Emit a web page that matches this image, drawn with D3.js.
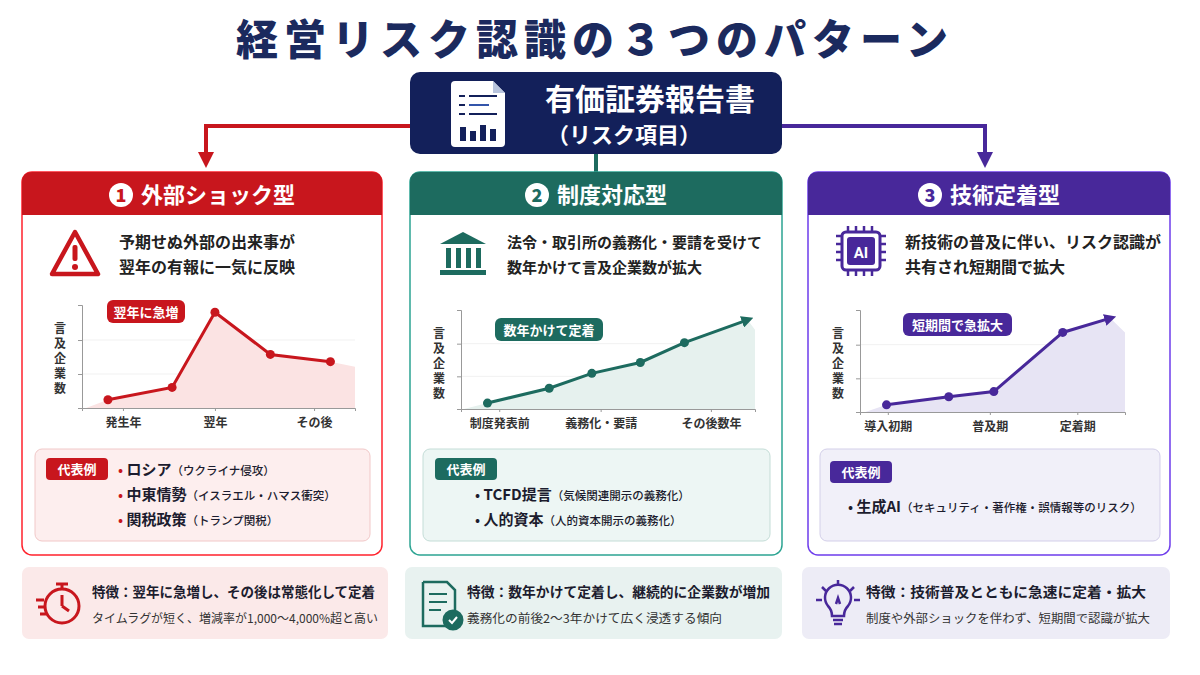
<!DOCTYPE html>
<html><head><meta charset="utf-8">
<script src="https://cdn.jsdelivr.net/npm/d3@7"></script>
<style>body{margin:0;background:#fff}svg{font-family:"Noto Sans CJK JP","Noto Sans",sans-serif}</style>
</head><body>
<script>
// data
var titles = ['外部ショック型', '制度対応型', '技術定着型'];
var descs = [['予期せぬ外部の出来事が', '翌年の有報に一気に反映'],
  ['法令・取引所の義務化・要請を受けて', '数年かけて言及企業数が拡大'],
  ['新技術の普及に伴い、リスク認識が', '共有され短期間で拡大']];
var badges = ['翌年に急増', '数年かけて定着', '短期間で急拡大'];
var shockX = [0.95, 3.3, 4.87, 6.9, 9.1], shockY = [8, 20, 93, 52, 45];
var instX = [0.9, 3.0, 4.45, 6.1, 7.6, 9.75], instY = [6, 21, 36, 47, 67, 90];
var techX = [1.0, 3.35, 5.05, 7.65, 9.45], techY = [7, 15, 20, 78, 92];
var fillEnd = [40, 80, 78];
var catLabels = [['発生年', '翌年', 'その後'], ['制度発表前', '義務化・要請', 'その後数年'], ['導入初期', '普及期', '定着期']];
var catPos = [[1.5, 4.87, 8.5], [1.3, 4.75, 8.5], [1.05, 4.9, 8.2]];
var examples = [
  [['ロシア', '（ウクライナ侵攻）'], ['中東情勢', '（イスラエル・ハマス衝突）'], ['関税政策', '（トランプ関税）']],
  [['TCFD提言', '（気候関連開示の義務化）'], ['人的資本', '（人的資本開示の義務化）']],
  [['生成AI', '（セキュリティ・著作権・誤情報等のリスク）']]];
var feat1 = ['特徴：翌年に急増し、その後は常態化して定着', '特徴：数年かけて定着し、継続的に企業数が増加', '特徴：技術普及とともに急速に定着・拡大'];
var feat2 = ['タイムラグが短く、増減率が1,000〜4,000%超と高い', '義務化の前後2〜3年かけて広く浸透する傾向', '制度や外部ショックを伴わず、短期間で認識が拡大'];

var colors = ['#c8161d', '#1d6b5f', '#48289a'];
var lightFill = ['#fdeeee', '#edf6f4', '#f1f0f9'];
var lightStroke = ['#f1c8c8', '#c4ddd7', '#d3cfe9'];
var featFill = ['#fbe9e9', '#e8f2f0', '#edecf6'];
var areaFill = ['#fbe3e3', '#e6f1ee', '#e7e4f4'];
var navy = '#13205a';

var svg = d3.select('body').append('svg').attr('width', 1200).attr('height', 675);
var defs = svg.append('defs');
colors.forEach(function (c, i) {
  defs.append('marker').attr('id', 'ar' + i).attr('viewBox', '0 0 10 10').attr('refX', 5).attr('refY', 5)
    .attr('markerWidth', 4).attr('markerHeight', 4).attr('orient', 'auto')
    .append('path').attr('d', 'M0,0L10,5L0,10z').attr('fill', c);
});

svg.append('text').attr('x', 592).attr('y', 55).attr('text-anchor', 'middle').attr('font-size', 42)
  .attr('font-weight', 900).attr('fill', '#1b2a5e').attr('textLength', 712).attr('lengthAdjust', 'spacing').text('経営リスク認識の３つのパターン');

// connectors
svg.append('path').attr('d', 'M410,126H206V160').attr('fill', 'none').attr('stroke', colors[0]).attr('stroke-width', 4).attr('marker-end', 'url(#ar0)');
svg.append('path').attr('d', 'M596,150V172').attr('fill', 'none').attr('stroke', colors[1]).attr('stroke-width', 4);
svg.append('path').attr('d', 'M782,126H985V160').attr('fill', 'none').attr('stroke', colors[2]).attr('stroke-width', 4).attr('marker-end', 'url(#ar2)');

// center box
svg.append('rect').attr('x', 410).attr('y', 72).attr('width', 372).attr('height', 82).attr('rx', 10).attr('fill', navy);
var doc = svg.append('g').attr('transform', 'translate(451,81)');
doc.append('path').attr('d', 'M0,4Q0,0 4,0H42L54,12V62Q54,66 50,66H4Q0,66 0,62Z').attr('fill', '#fff');
doc.append('path').attr('d', 'M42,0V12H54Z').attr('fill', '#b8c4dd');
[14, 23, 32].forEach(function (y, k) {
  doc.append('rect').attr('x', 8).attr('y', y).attr('width', 6).attr('height', 2).attr('fill', navy);
  doc.append('rect').attr('x', 18).attr('y', y).attr('width', k == 1 ? 20 : 28).attr('height', 2).attr('fill', k == 1 ? '#3355aa' : navy);
});
[[9, 14], [19, 10], [29, 16], [39, 12]].forEach(function (b) {
  doc.append('rect').attr('x', b[0]).attr('y', 60 - b[1]).attr('width', 6).attr('height', b[1]).attr('fill', navy);
});
svg.append('text').attr('x', 650).attr('y', 110).attr('text-anchor', 'middle').attr('font-size', 30).attr('font-weight', 700).attr('fill', '#fff').text('有価証券報告書');
svg.append('text').attr('x', 624).attr('y', 143).attr('text-anchor', 'middle').attr('font-size', 22).attr('font-weight', 700).attr('fill', '#fff').text('（リスク項目）');

var panels = [
  {x: 22, w: 360, ax: 82, ax2: 355, by: 408, ty: 305, xs: shockX, ys: shockY, arrow: false, badge: [107, 300, 78], ex: [35, 335], exBadge: [46, 458], exX: 118, exY: [469, 494, 519], ft: [22, 366], fx: 70, fw: [283, 286]},
  {x: 410, w: 372, ax: 461, ax2: 755, by: 409, ty: 310, xs: instX, ys: instY, arrow: true, badge: [495, 318, 108], ex: [423, 347], exBadge: [435, 458], exX: 475, exY: [494, 519], ft: [405, 377], fx: 62, fw: [303, 255]},
  {x: 808, w: 362, ax: 860, ax2: 1125, by: 412, ty: 310, xs: techX, ys: techY, arrow: true, badge: [903, 313, 109], ex: [820, 340], exBadge: [830, 461], exX: 848, exY: [506], ft: [802, 368], fx: 64, fw: [280, 284]}];

panels.forEach(function (p, i) {
  var c = colors[i];
  var g = svg.append('g');
  g.append('rect').attr('x', p.x).attr('y', 172).attr('width', p.w).attr('height', 383).attr('rx', 10)
    .attr('fill', '#fff').attr('stroke', d3.color(c).brighter(1.2)).attr('stroke-width', 1.5);
  g.append('path').attr('d', 'M' + p.x + ',215V182Q' + p.x + ',172 ' + (p.x + 10) + ',172H' + (p.x + p.w - 10) + 'Q' + (p.x + p.w) + ',172 ' + (p.x + p.w) + ',182V215Z').attr('fill', c);
  var cx = p.x + p.w / 2;
  g.append('text').attr('y', 203).attr('font-size', 22).attr('font-weight', 700).attr('fill', '#fff').attr('x', cx + 16).attr('text-anchor', 'middle').text(titles[i]);
  var tw = titles[i].length * 22;
  g.append('circle').attr('cx', cx + 16 - tw / 2 - 20).attr('cy', 195).attr('r', 12).attr('fill', '#fff');
  g.append('text').attr('x', cx + 16 - tw / 2 - 20).attr('y', 202).attr('text-anchor', 'middle').attr('font-size', 18).attr('font-weight', 900).attr('fill', c).text(i + 1);

  // icon
  var ic = g.append('g').attr('transform', 'translate(' + (p.x + 28) + ',228)');
  if (i == 0) {
    ic.append('path').attr('d', 'M25,4L48,46H2Z').attr('fill', 'none').attr('stroke', c).attr('stroke-width', 4.5).attr('stroke-linejoin', 'round');
    ic.append('rect').attr('x', 22.5).attr('y', 17).attr('width', 5).attr('height', 16).attr('rx', 2).attr('fill', c);
    ic.append('circle').attr('cx', 25).attr('cy', 39).attr('r', 3).attr('fill', c);
  } else if (i == 1) {
    ic.append('path').attr('d', 'M2,16L25,4L48,16Z').attr('fill', c);
    [8, 18, 28, 38].forEach(function (x) { ic.append('rect').attr('x', x).attr('y', 20).attr('width', 5).attr('height', 20).attr('fill', c); });
    ic.append('rect').attr('x', 2).attr('y', 42).attr('width', 46).attr('height', 5).attr('fill', c);
  } else {
    ic.append('rect').attr('x', 6).attr('y', 4).attr('width', 38).attr('height', 38).attr('rx', 4).attr('fill', 'none').attr('stroke', c).attr('stroke-width', 3);
    [12, 20, 28, 36].forEach(function (v) {
      ic.append('path').attr('d', 'M' + v + ',4V-2M' + v + ',42V48M6,' + (v - 4) + 'H0M44,' + (v - 4) + 'H50').attr('stroke', c).attr('stroke-width', 2.5);
    });
    ic.append('rect').attr('x', 11).attr('y', 9).attr('width', 28).attr('height', 28).attr('rx', 3).attr('fill', c);
    ic.append('text').attr('x', 25).attr('y', 30).attr('text-anchor', 'middle').attr('font-size', 15).attr('font-weight', 700).attr('fill', '#fff').attr('font-family', 'Roboto').text('AI');
  }
  descs[i].forEach(function (t, k) {
    g.append('text').attr('x', p.x + 97).attr('y', 248 + k * 25).attr('font-size', i == 1 ? 15 : 16).attr('font-weight', 700).attr('fill', '#222').text(t);
  });

  // chart
  var x = d3.scaleLinear().domain([0, 10]).range([p.ax, p.ax2]);
  var y = d3.scaleLinear().domain([0, 100]).range([p.by, p.ty]);
  [33, 66].forEach(function (v) {
    g.append('line').attr('x1', p.ax).attr('x2', p.ax2).attr('y1', y(v)).attr('y2', y(v)).attr('stroke', '#f1f1f1');
  });
  var pts = p.xs.map(function (v, k) { return [v, p.ys[k]]; });
  var apts = [[p.xs[0] - 0.8, 0]].concat(pts).concat([[10, fillEnd[i]], [10, 0]]);
  g.append('path').datum(apts).attr('fill', areaFill[i])
    .attr('d', d3.area().x(function (d) { return x(d[0]); }).y0(p.by).y1(function (d) { return y(d[1]); }));
  var yax = g.append('g').attr('transform', 'translate(' + p.ax + ',0)').call(d3.axisLeft(y).tickValues([33, 66]).tickSize(4).tickFormat(''));
  yax.select('.domain').attr('stroke', '#999');
  yax.selectAll('line').attr('stroke', '#999');
  var xax = g.append('g').attr('transform', 'translate(0,' + p.by + ')').call(d3.axisBottom(x).tickValues(catPos[i]).tickSize(3).tickFormat(function (d, k) { return catLabels[i][k]; }));
  xax.select('.domain').attr('stroke', '#999');
  xax.selectAll('line').attr('stroke', '#999');
  xax.selectAll('text').attr('font-size', 12).attr('font-weight', 700).attr('fill', '#333').attr('dy', '1.1em').attr('font-family', 'Noto Sans CJK JP');
  ['言', '及', '企', '業', '数'].forEach(function (ch, k) {
    g.append('text').attr('x', p.ax - 22).attr('y', p.ty + 28 + k * 15).attr('text-anchor', 'middle').attr('font-size', 12).attr('font-weight', 700).attr('fill', '#333').text(ch);
  });
  var line = d3.line().x(function (d) { return x(d[0]); }).y(function (d) { return y(d[1]); });
  g.append('path').datum(pts).attr('fill', 'none').attr('stroke', c).attr('stroke-width', 3)
    .attr('marker-end', p.arrow ? 'url(#ar' + i + ')' : null).attr('d', line);
  g.selectAll('.dot').data(p.arrow ? pts.slice(0, -1) : pts).enter().append('circle')
    .attr('cx', function (d) { return x(d[0]); }).attr('cy', function (d) { return y(d[1]); }).attr('r', 4.5).attr('fill', c);
  g.append('rect').attr('x', p.badge[0]).attr('y', p.badge[1]).attr('width', p.badge[2]).attr('height', 23).attr('rx', 6).attr('fill', c);
  g.append('text').attr('x', p.badge[0] + p.badge[2] / 2).attr('y', p.badge[1] + 17).attr('text-anchor', 'middle').attr('font-size', 13).attr('font-weight', 700).attr('fill', '#fff').text(badges[i]);

  // examples
  g.append('rect').attr('x', p.ex[0]).attr('y', 449).attr('width', p.ex[1]).attr('height', 92).attr('rx', 7).attr('fill', lightFill[i]).attr('stroke', lightStroke[i]);
  g.append('rect').attr('x', p.exBadge[0]).attr('y', p.exBadge[1]).attr('width', 62).attr('height', 22).attr('rx', 4).attr('fill', c);
  g.append('text').attr('x', p.exBadge[0] + 31).attr('y', p.exBadge[1] + 16).attr('text-anchor', 'middle').attr('font-size', 13).attr('font-weight', 700).attr('fill', '#fff').text('代表例');
  examples[i].forEach(function (e, k) {
    var t = g.append('text').attr('x', p.exX).attr('y', p.exY[k] + 6).attr('fill', '#1c1c2e');
    t.append('tspan').attr('fill', i == 0 ? c : '#1c1c2e').attr('font-size', 15).text('• ');
    t.append('tspan').attr('font-size', 15).attr('font-weight', 700).text(e[0]);
    t.append('tspan').attr('font-size', 11.5).attr('font-weight', 500).text(e[1]);
  });

  // feature box
  g.append('rect').attr('x', p.ft[0]).attr('y', 567).attr('width', p.ft[1]).attr('height', 72).attr('rx', 7).attr('fill', featFill[i]);
  var fi = g.append('g').attr('transform', 'translate(' + (p.ft[0] + 14) + ',580)').attr('fill', 'none').attr('stroke', c).attr('stroke-width', 3);
  if (i == 0) {
    fi.append('circle').attr('cx', 26).attr('cy', 26).attr('r', 17);
    fi.append('path').attr('d', 'M20,4H32M26,4V9M26,26V15M26,26L33,31M0,20H8M2,27H8M4,34H10');
  } else if (i == 1) {
    fi.append('path').attr('d', 'M4,2H28L36,10V30M36,46H4V2').attr('stroke-width', 2.5);
    fi.append('path').attr('d', 'M10,14H28M10,22H28M10,30H22').attr('stroke-width', 2);
    fi.append('circle').attr('cx', 34).attr('cy', 40).attr('r', 9).attr('fill', c);
    fi.append('path').attr('d', 'M30,40L33,43L38,37').attr('stroke', '#fff').attr('stroke-width', 2);
  } else {
    fi.append('path').attr('d', 'M16,36Q16,30 12,26A13,13 0 1 1 32,26Q28,30 28,36Z').attr('stroke-width', 2.5);
    fi.append('path').attr('d', 'M17,40H27M18,44H26M22,0V6M6,7L10,11M38,7L34,11M0,20H6M38,20H44M20,24L22,18L24,24').attr('stroke-width', 2.5);
  }
  g.append('text').attr('x', p.ft[0] + p.fx).attr('y', 597).attr('font-size', 14).attr('font-weight', 700).attr('fill', '#1c1c2e')
    .attr('textLength', p.fw[0]).attr('lengthAdjust', 'spacingAndGlyphs').text(feat1[i]);
  g.append('text').attr('x', p.ft[0] + p.fx).attr('y', 623).attr('font-size', 12).attr('fill', '#333')
    .attr('textLength', p.fw[1]).attr('lengthAdjust', 'spacingAndGlyphs').text(feat2[i]);
});
</script>
</body></html>
